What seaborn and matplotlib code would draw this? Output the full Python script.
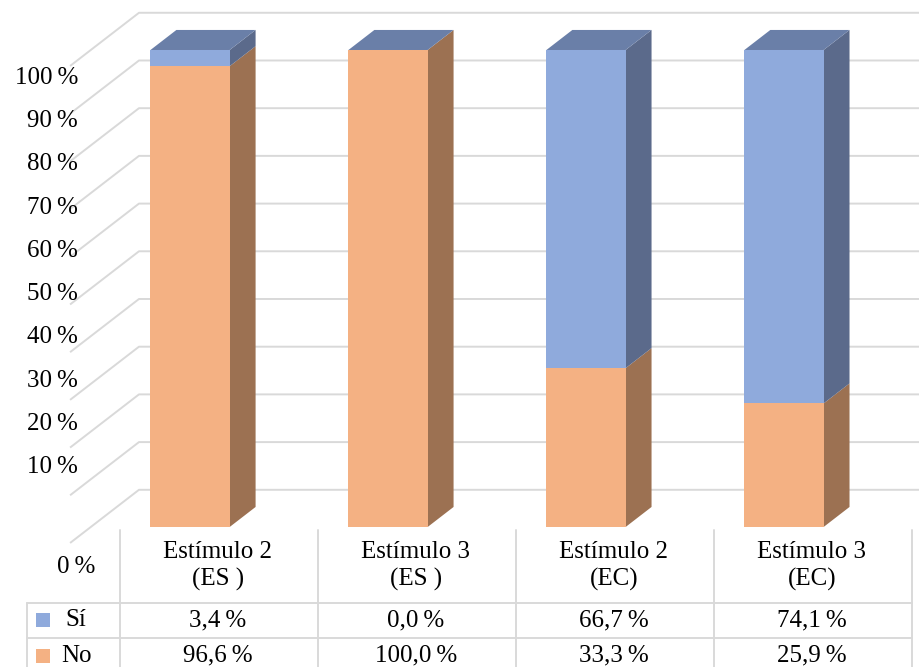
import numpy as np
import matplotlib
matplotlib.use("Agg")
import matplotlib.pyplot as plt
import seaborn as sns

# data
categories = ["Estímulo 2\n(ES )", "Estímulo 3\n(ES )", "Estímulo 2\n(EC)", "Estímulo 3\n(EC)"]
series_names = ["Sí", "No"]
si = [3.4, 0.0, 66.7, 74.1]
no = [96.6, 100.0, 33.3, 25.9]
yticks = [0, 10, 20, 30, 40, 50, 60, 70, 80, 90, 100]

sns.set_theme(style="white")
plt.rcParams["font.family"] = ["Liberation Serif", "DejaVu Serif"]
plt.rcParams["text.color"] = "black"

BLUE, BLUE_TOP, BLUE_SIDE = "#8FAADC", "#6A7FA8", "#5B6A8B"
ORANGE, ORANGE_SIDE = "#F4B183", "#9C7152"
GRID = "#D9D9D9"
FS = 18

W = 0.40                 # bar width (category units)
DX, DY = 0.131, 4.2      # bar depth offset
GF = (-0.106, -3.35)     # gridline front plane offset
GB = (0.242, 7.8)        # back wall offset

fig = plt.figure(figsize=(9.2, 6.67), dpi=100)
ax = fig.add_axes([0, 0, 1, 1])

totals = [a + b for a, b in zip(si, no)]
sns.barplot(x=categories, y=totals, color=BLUE, width=W, saturation=1,
            linewidth=0, ax=ax, zorder=2)
sns.barplot(x=categories, y=no, color=ORANGE, width=W, saturation=1,
            linewidth=0, ax=ax, zorder=2)

# gridlines: diagonal on side wall + horizontal on back wall
for p in yticks:
    xs = [-0.5 + GF[0], -0.5 + GB[0], 3.8]
    ys = [p + GF[1], p + GB[1], p + GB[1]]
    ax.plot(xs, ys, color=GRID, lw=1.4, zorder=0.5, solid_capstyle="butt")

# side and top faces
for i, (s, n) in enumerate(zip(si, no)):
    xr = i + W / 2
    for lo, hi, col in [(0, n, ORANGE_SIDE), (n, n + s, BLUE_SIDE)]:
        if hi > lo:
            ax.fill([xr, xr + DX, xr + DX, xr], [lo, lo + DY, hi + DY, hi],
                    color=col, lw=0, zorder=1.5)
    top = n + s
    xl = i - W / 2
    ax.fill([xl, xr, xr + DX, xl + DX], [top, top, top + DY, top + DY],
            color=BLUE_TOP, lw=0, zorder=1.5)

# y labels
for p in yticks[1:]:
    ax.text(-0.566, 3.52 + 0.906 * p, f"{p}\u2009%", ha="right", va="center", fontsize=FS)
ax.text(-0.576, -8.4, "0\u2009%", ha="center", va="center", fontsize=FS)

# data table
centers = np.arange(len(categories)) + DX
edges = list(centers - 0.5 + 0.015) + [centers[-1] + 0.515]
row_y = [-15.9, -23.3, -30.6]
left = -0.823
for e in edges:
    ax.plot([e, e], [-0.6, row_y[-1]], color=GRID, lw=1.4, zorder=1)
for ry in row_y[:2]:
    ax.plot([left, edges[-1]], [ry, ry], color=GRID, lw=1.4, zorder=1)
ax.plot([left, left], [row_y[0], row_y[-1]], color=GRID, lw=1.4, zorder=1)

for c, lab in zip(centers, categories):
    ax.text(c + 0.01, -8.2, lab, ha="center", va="center", fontsize=FS, linespacing=1.3)

rows = [(series_names[0], si, BLUE), (series_names[1], no, ORANGE)]
for k, (name, vals, col) in enumerate(rows):
    yc = (row_y[k] + row_y[k + 1]) / 2
    ax.scatter([-0.745], [yc], marker="s", s=95, color=col, lw=0, zorder=3)
    ax.text(-0.576, yc, name, ha="center", va="center", fontsize=FS)
    for c, v in zip(centers, vals):
        txt = f"{v:.1f}".replace(".", ",") + "\u2009%"
        ax.text(c + 0.01, yc, txt, ha="center", va="center", fontsize=FS)

ax.set_xlim(-0.96, 3.687)
ax.set_ylim(-29.35, 110.48)
ax.axis("off")

fig.savefig("out.png", dpi=100)
